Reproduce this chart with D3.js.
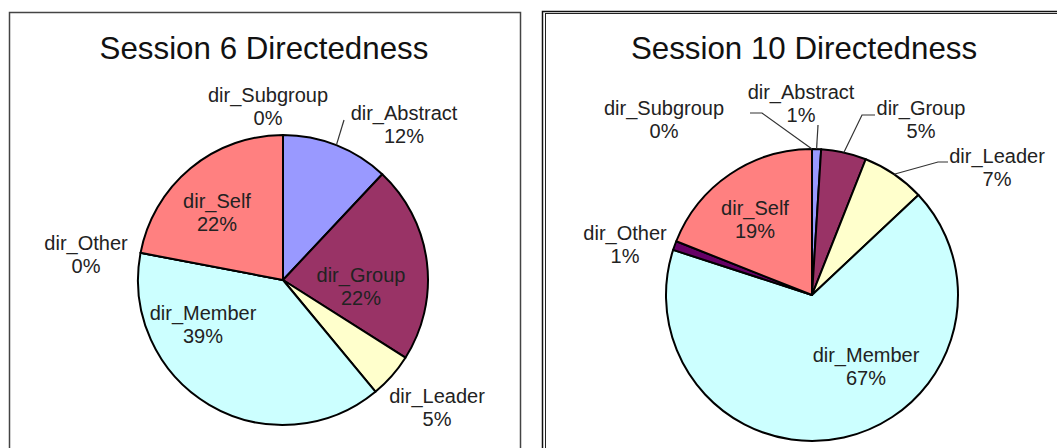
<!DOCTYPE html>
<html>
<head>
<meta charset="utf-8">
<script src="https://cdnjs.cloudflare.com/ajax/libs/d3/7.8.5/d3.min.js"></script>
<style>
  body { margin: 0; background: #fff; }
  svg { display: block; font-family: "Liberation Sans", Arial, sans-serif; }
</style>
</head>
<body>
<div class="holder"></div>
<script>
// categories, in the order Excel draws them (clockwise from 12 o'clock)
var categories = ["dir_Abstract", "dir_Group", "dir_Leader", "dir_Member", "dir_Other", "dir_Self", "dir_Subgroup"];
var colors = ["#9999ff", "#993366", "#ffffcc", "#ccffff", "#660066", "#ff8080", "#0066cc"];

// percentages per session
var session6 = [12, 22, 5, 39, 0, 22, 0];
var session10 = [1, 5, 7, 67, 1, 19, 0];

var titles = ["Session 6 Directedness", "Session 10 Directedness"];

var W = 1057, H = 448;

var svg = d3.select(".holder")
      .append("svg")
      .attr("width", W)
      .attr("height", H);

/* label layout: offset from pie centre to the first line's baseline,
   and optional leader line end points (offsets from pie centre) */
var layout6 = {
  cx: 283, cy: 280, r: 145, titleX: 264,
  labels: {
    "dir_Subgroup": [-15, -178],
    "dir_Abstract": [121, -160],
    "dir_Other":    [-197, -30],
    "dir_Self":     [-66, -72],
    "dir_Group":    [78, 2],
    "dir_Member":   [-80, 40],
    "dir_Leader":   [154, 123]
  },
  leaders: {
    "dir_Abstract": [[61, -160]]
  }
};
var layout10 = {
  cx: 812, cy: 295, r: 146, titleX: 804,
  labels: {
    "dir_Subgroup": [-148, -180],
    "dir_Abstract": [-11, -196],
    "dir_Group":    [109, -180],
    "dir_Leader":   [185, -132],
    "dir_Self":     [-57, -80],
    "dir_Other":    [-187, -55],
    "dir_Member":   [54, 67]
  },
  leaders: {
    "dir_Subgroup": [[-50, -182], [-62, -182]],
    "dir_Abstract": [[6, -170]],
    "dir_Group":    [[50, -180], [63, -180]],
    "dir_Leader":   [[126, -133], [136, -133]]
  }
};

// panel frames
svg.append("rect").attr("x", 9.5).attr("y", 12.5).attr("width", 511).attr("height", 460)
   .attr("fill", "none").attr("stroke", "#444").attr("stroke-width", 1.5);
svg.append("rect").attr("x", 542.5).attr("y", 11.5).attr("width", 540).attr("height", 460)
   .attr("fill", "none").attr("stroke", "#111").attr("stroke-width", 1.5);
svg.append("rect").attr("x", 545.5).attr("y", 13.5).attr("width", 540).attr("height", 460)
   .attr("fill", "none").attr("stroke", "#222").attr("stroke-width", 1);

drawPie(session6, layout6, titles[0]);
drawPie(session10, layout10, titles[1]);

function drawPie(values, lay, title){
  var data = categories.map(function(c, i){ return {name: c, value: values[i], color: colors[i]}; });

  var pie = d3.pie().sort(null).value(function(d){ return d.value; });
  var arc = d3.arc().innerRadius(0).outerRadius(lay.r);
  var edge = d3.arc().innerRadius(lay.r).outerRadius(lay.r);

  var arcs = pie(data);

  svg.append("text")
     .attr("x", lay.titleX)
     .attr("y", 59)
     .attr("text-anchor", "middle")
     .attr("fill", "#111")
     .style("font-size", "31.3px")
     .text(title);

  var g = svg.append("g").attr("transform", `translate(${lay.cx}, ${lay.cy})`);

  g.selectAll("path.slice")
   .data(arcs)
   .enter().append("path")
   .attr("class", "slice")
   .attr("d", arc)
   .attr("fill", function(d){ return d.data.color; })
   .attr("stroke", "#000")
   .attr("stroke-width", 2)
   .attr("stroke-linejoin", "round");

  // leader lines from the slice edge to the label
  arcs.forEach(function(d){
    var pts = lay.leaders[d.data.name];
    if (!pts) return;
    var start = edge.centroid(d);
    g.append("path")
     .attr("d", d3.line()([start].concat(pts)))
     .attr("fill", "none")
     .attr("stroke", "#333")
     .attr("stroke-width", 1.2);
  });

  // data labels: name + percentage
  arcs.forEach(function(d){
    var p = lay.labels[d.data.name];
    var t = g.append("text")
       .attr("text-anchor", "middle")
       .attr("fill", "#222")
       .style("font-size", "20px");
    t.append("tspan").attr("x", p[0]).attr("y", p[1]).text(d.data.name);
    t.append("tspan").attr("x", p[0]).attr("y", p[1] + 23).text(d.data.value + "%");
  });
}
</script>
</body>
</html>
